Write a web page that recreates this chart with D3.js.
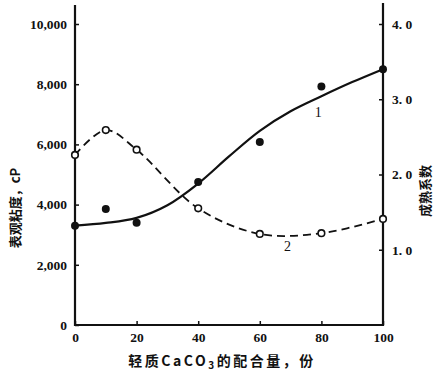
<!DOCTYPE html>
<html>
<head>
<meta charset="utf-8">
<script src="https://cdn.jsdelivr.net/npm/d3@7"></script>
<style>
  html, body { margin: 0; padding: 0; background: #fff; }
  svg { display: block; }
</style>
</head>
<body>
<svg id="chart"></svg>
<script>
// CaCO3 amount (parts)
const amounts = [0, 10, 20, 40, 60, 80, 100];
// curve 1: apparent viscosity, cP (filled dots)
const viscosity = [3300, 3850, 3400, 4750, 6080, 7920, 8500];
// smooth fitted line for curve 1
const fitX = [0, 10, 20, 30, 40, 50, 60, 70, 80, 90, 100];
const fitViscosity = [3300, 3390, 3560, 3980, 4700, 5600, 6450, 7100, 7600, 8070, 8500];
// curve 2: maturity coefficient (open circles)
const maturity = [2.26, 2.59, 2.33, 1.55, 1.21, 1.22, 1.41];

const xTicks = [0, 20, 40, 60, 80, 100];
const leftTicks = [0, 2000, 4000, 6000, 8000, 10000];
const leftTickLabels = ['0', '2,000', '4,000', '6,000', '8,000', '10,000'];
const rightTicks = [1, 2, 3, 4];
const rightTickLabels = ['1. 0', '2. 0', '3. 0', '4. 0'];

const width = 442, height = 377;
const numFont = '"Liberation Serif", "DejaVu Serif", serif';
const cjkFont = '"Noto Sans CJK SC", "Noto Sans", sans-serif';

const svg = d3.select('#chart')
  .attr('width', width)
  .attr('height', height)
  .attr('viewBox', `0 0 ${width} ${height}`);

const x = d3.scaleLinear().domain([0, 100]).range([75, 383]);
const yL = d3.scaleLinear().domain([0, 10000]).range([325, 24]);
const yR = d3.scaleLinear().domain([0, 4]).range([325, 24]);

// axis lines
svg.append('line')
  .attr('x1', x(0)).attr('x2', x(0)).attr('y1', 326).attr('y2', 5)
  .attr('stroke', '#111').attr('stroke-width', 2.2);
svg.append('line')
  .attr('x1', x(100)).attr('x2', x(100)).attr('y1', 326).attr('y2', 3)
  .attr('stroke', '#111').attr('stroke-width', 2.2);
svg.append('line')
  .attr('x1', x(0) - 1).attr('x2', x(100) + 1).attr('y1', 325).attr('y2', 325)
  .attr('stroke', '#111').attr('stroke-width', 2.2);

// left axis
const gL = svg.append('g')
  .attr('transform', `translate(${x(0)},0)`)
  .call(d3.axisLeft(yL).tickValues(leftTicks).tickSizeInner(-4).tickSizeOuter(0).tickPadding(8)
    .tickFormat((d, i) => leftTickLabels[i]));
gL.select('.domain').remove();
gL.selectAll('line').attr('stroke', '#111').attr('stroke-width', 1.5);
gL.selectAll('text')
  .attr('font-family', numFont).attr('font-weight', 'bold').attr('font-size', 13.5)
  .attr('fill', '#111');

// right axis
const gR = svg.append('g')
  .attr('transform', `translate(${x(100)},0)`)
  .call(d3.axisRight(yR).tickValues(rightTicks).tickSizeInner(-4).tickSizeOuter(0).tickPadding(9)
    .tickFormat((d, i) => rightTickLabels[i]));
gR.select('.domain').remove();
gR.selectAll('line').attr('stroke', '#111').attr('stroke-width', 1.5);
gR.selectAll('text')
  .attr('font-family', numFont).attr('font-weight', 'bold').attr('font-size', 13.5)
  .attr('fill', '#111');

// bottom axis
const gB = svg.append('g')
  .attr('transform', `translate(0,325)`)
  .call(d3.axisBottom(x).tickValues(xTicks).tickSizeInner(-4).tickSizeOuter(0).tickPadding(7));
gB.select('.domain').remove();
gB.selectAll('line').attr('stroke', '#111').attr('stroke-width', 1.5);
gB.selectAll('text')
  .attr('font-family', numFont).attr('font-weight', 'bold').attr('font-size', 13.5)
  .attr('fill', '#111');

// curve 1 fitted line
const line1 = d3.line()
  .x((d, i) => x(fitX[i]))
  .y(d => yL(d))
  .curve(d3.curveCatmullRom.alpha(0.5));
svg.append('path')
  .datum(fitViscosity)
  .attr('fill', 'none')
  .attr('stroke', '#111')
  .attr('stroke-width', 2.2)
  .attr('d', line1);

// curve 2 dashed line
const line2 = d3.line()
  .x((d, i) => x(amounts[i]))
  .y(d => yR(d))
  .curve(d3.curveCatmullRom.alpha(0.5));
svg.append('path')
  .datum(maturity)
  .attr('fill', 'none')
  .attr('stroke', '#111')
  .attr('stroke-width', 1.8)
  .attr('stroke-dasharray', '8 5')
  .attr('d', line2);

// filled dots
svg.selectAll('.dot1')
  .data(viscosity)
  .join('circle')
  .attr('cx', (d, i) => x(amounts[i]))
  .attr('cy', d => yL(d))
  .attr('r', 4)
  .attr('fill', '#111');

// open circles
svg.selectAll('.dot2')
  .data(maturity)
  .join('circle')
  .attr('cx', (d, i) => x(amounts[i]))
  .attr('cy', d => yR(d))
  .attr('r', 3.3)
  .attr('fill', '#fff')
  .attr('stroke', '#111')
  .attr('stroke-width', 1.6);

// curve labels
svg.append('text')
  .attr('x', x(79)).attr('y', 117)
  .attr('text-anchor', 'middle')
  .attr('font-family', numFont).attr('font-size', 14)
  .attr('fill', '#111')
  .text('1');
svg.append('text')
  .attr('x', x(69)).attr('y', 251)
  .attr('text-anchor', 'middle')
  .attr('font-family', numFont).attr('font-size', 14)
  .attr('fill', '#111')
  .text('2');

// left title
svg.append('text')
  .attr('transform', 'translate(20,208) rotate(-90)')
  .attr('text-anchor', 'middle')
  .attr('font-family', cjkFont).attr('font-weight', 'bold').attr('font-size', 13)
  .attr('fill', '#111')
  .text('表观粘度，cP');

// right title
svg.append('text')
  .attr('transform', 'translate(430,191) rotate(-90)')
  .attr('text-anchor', 'middle')
  .attr('font-family', cjkFont).attr('font-weight', 'bold').attr('font-size', 13)
  .attr('fill', '#111')
  .text('成熟系数');

// x title
const xt = svg.append('text')
  .attr('x', 222).attr('y', 366)
  .attr('text-anchor', 'middle')
  .attr('font-family', cjkFont).attr('font-weight', 'bold').attr('font-size', 14)
  .attr('letter-spacing', 2.5)
  .attr('fill', '#111');
xt.append('tspan').text('轻质CaCO');
xt.append('tspan').attr('font-size', 10).attr('dy', 3).text('3');
xt.append('tspan').attr('dy', -3).text('的配合量，份');
</script>
</body>
</html>
